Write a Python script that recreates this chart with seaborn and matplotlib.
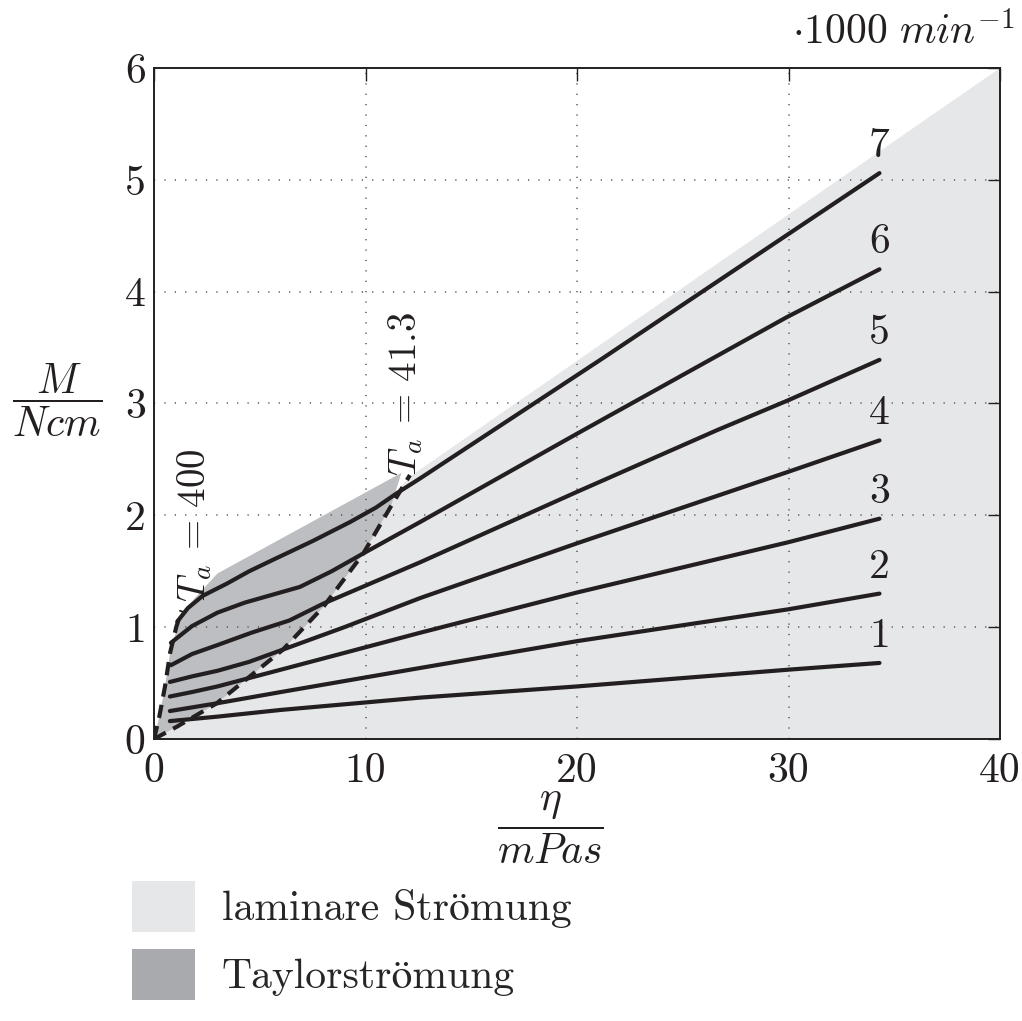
import numpy as np
import pandas as pd
import matplotlib
matplotlib.use("Agg")
import matplotlib.pyplot as plt
from matplotlib.patches import Patch
import seaborn as sns

# ---------------- data ----------------
x_ticks = [0, 10, 20, 30, 40]
y_ticks = [0, 1, 2, 3, 4, 5, 6]
curve_labels = ["1", "2", "3", "4", "5", "6", "7"]

eta_1 = [0.75, 3.0, 6.0, 12.58, 20.0, 30.0, 34.3]
M_1 = [0.16, 0.20, 0.26, 0.37, 0.47, 0.62, 0.68]

eta_2 = [0.75, 3.0, 6.0, 12.58, 20.0, 30.0, 34.3]
M_2 = [0.25, 0.32, 0.42, 0.635, 0.875, 1.16, 1.30]

eta_3 = [0.75, 1.8, 3.0, 6.0, 9.0, 12.58, 20.0, 30.0, 34.3]
M_3 = [0.38, 0.42, 0.47, 0.62, 0.77, 0.95, 1.31, 1.76, 1.97]

eta_4 = [0.75, 1.8, 3.0, 4.5, 6.1, 9.0, 12.58, 20.0, 30.0, 34.3]
M_4 = [0.51, 0.56, 0.61, 0.69, 0.80, 1.00, 1.26, 1.75, 2.39, 2.67]

eta_5 = [0.8, 1.8, 3.0, 4.6, 6.4, 8.0, 12.58, 20.0, 26.6, 30.0, 34.3]
M_5 = [0.66, 0.76, 0.84, 0.95, 1.06, 1.21, 1.58, 2.21, 2.76, 3.03, 3.39]

eta_6 = [0.8, 1.8, 3.0, 4.3, 5.6, 6.9, 8.4, 9.9, 12.58, 20.0, 29.9, 34.3]
M_6 = [0.86, 1.01, 1.13, 1.22, 1.29, 1.36, 1.50, 1.66, 1.94, 2.73, 3.77, 4.20]

eta_7 = [1.1, 1.6, 2.3, 3.45, 4.5, 5.6, 7.5, 9.27, 10.5, 11.5, 12.58, 21.1, 34.3]
M_7 = [1.05, 1.17, 1.28, 1.39, 1.50, 1.60, 1.77, 1.94, 2.07, 2.20, 2.33, 3.39, 5.06]

laminar_eta = [0.0, 12.2, 40.0, 40.0]
laminar_M = [0.0, 2.36, 6.0, 0.0]

taylor_eta = [0.0, 0.25, 0.52, 0.76, 1.3, 3.0, 11.7, 11.2, 9.9, 8.0, 6.1, 2.97, 1.08]
taylor_M = [0.0, 0.20, 0.47, 0.77, 1.13, 1.48, 2.38, 2.08, 1.66, 1.18, 0.80, 0.32, 0.11]

ta400_eta = [0.0, 0.25, 0.52, 0.76, 1.05, 1.3]
ta400_M = [0.0, 0.20, 0.47, 0.77, 1.00, 1.15]

ta41_eta = [0.0, 1.08, 2.97, 6.1, 8.0, 9.9, 11.2, 12.1]
ta41_M = [0.0, 0.11, 0.32, 0.80, 1.18, 1.66, 2.08, 2.36]

curves_eta = [eta_1, eta_2, eta_3, eta_4, eta_5, eta_6, eta_7]
curves_M = [M_1, M_2, M_3, M_4, M_5, M_6, M_7]

# ---------------- style ----------------
sns.set_style("white")
plt.rcParams["font.family"] = ["cmr10", "STIXGeneral"]
plt.rcParams["mathtext.fontset"] = "cm"
plt.rcParams["axes.unicode_minus"] = False

LIGHT = "#e6e7e9"
DARK = "#bdbec1"
DARK_LEG = "#a9aaad"
INK = "#231f20"
FS = 30

fig = plt.figure(figsize=(10.22, 10.21), dpi=100)
ax = fig.add_axes([0.1507, 0.2762, 0.8278, 0.6572])

ax.fill(laminar_eta, laminar_M, color=LIGHT, lw=0, zorder=1)
ax.fill(taylor_eta, taylor_M, color=DARK, lw=0, zorder=1.1)

frames = []
for lab, xs, ys in zip(curve_labels, curves_eta, curves_M):
    frames.append(pd.DataFrame({"eta": xs, "M": ys, "n": lab}))
df = pd.concat(frames, ignore_index=True)
for lab in curve_labels:
    sub = df[df["n"] == lab]
    sns.lineplot(data=sub, x="eta", y="M", ax=ax, color=INK, lw=3.0,
                 estimator=None, sort=False, legend=False, zorder=3,
                 solid_joinstyle="round", solid_capstyle="round")
    ax.text(sub["eta"].iloc[-1], sub["M"].iloc[-1] + 0.24, lab,
            ha="center", va="center", fontsize=FS, color=INK)

for xs, ys in [(ta400_eta, ta400_M), (ta41_eta, ta41_M)]:
    sns.lineplot(x=xs, y=ys, ax=ax, color=INK, lw=3.0, linestyle=(0, (3.2, 2.0)),
                 estimator=None, sort=False, legend=False, zorder=4)

ax.text(1.9, 1.91, r"$T_a\,=\,400$", rotation=90, ha="center", va="center",
        fontsize=28, color=INK)
ax.text(11.9, 3.09, r"$T_a\,=\,41.3$", rotation=90, ha="center", va="center",
        fontsize=28, color=INK)

ax.set_xlim(0, 40)
ax.set_ylim(0, 6)
ax.set_xticks(x_ticks)
ax.set_yticks(y_ticks)
ax.set_xticklabels([str(v) for v in x_ticks])
ax.set_yticklabels([str(v) for v in y_ticks])
ax.set_xlabel("")
ax.set_ylabel("")
ax.set_axisbelow("line")
ax.grid(True, color="#555555", lw=1.1, linestyle=(0, (0.8, 6)))
ax.tick_params(direction="in", length=9, width=1, top=True, right=True,
               labelsize=FS, colors=INK)
ax.tick_params(axis="x", pad=10)
ax.tick_params(axis="y", pad=6)
for s in ax.spines.values():
    s.set_color(INK)
    s.set_linewidth(1.4)
    s.set_visible(True)

fig.text(57 / 1022, 1 - 400 / 1021, r"$\dfrac{M}{Ncm}$", ha="center", va="center",
         fontsize=30, color=INK)
fig.text(550 / 1022, 1 - 828 / 1021, r"$\dfrac{\eta}{mPas}$", ha="center", va="center",
         fontsize=30, color=INK)
fig.text(1015 / 1022, 1 - 32 / 1021, r"$\cdot 1000\ min^{-1}$", ha="right", va="center",
         fontsize=30, color=INK)

handles = [Patch(facecolor=LIGHT, edgecolor="none"),
           Patch(facecolor=DARK_LEG, edgecolor="none")]
fig.legend(handles, ["laminare Strömung", "Taylorströmung"],
           loc="upper left", bbox_to_anchor=(132 / 1022, 1 - 881 / 1021),
           frameon=False, fontsize=FS, handlelength=1.51, handleheight=1.51,
           labelspacing=0.41, handletextpad=0.65, borderpad=0, borderaxespad=0)

fig.savefig("out.png", dpi=100)
